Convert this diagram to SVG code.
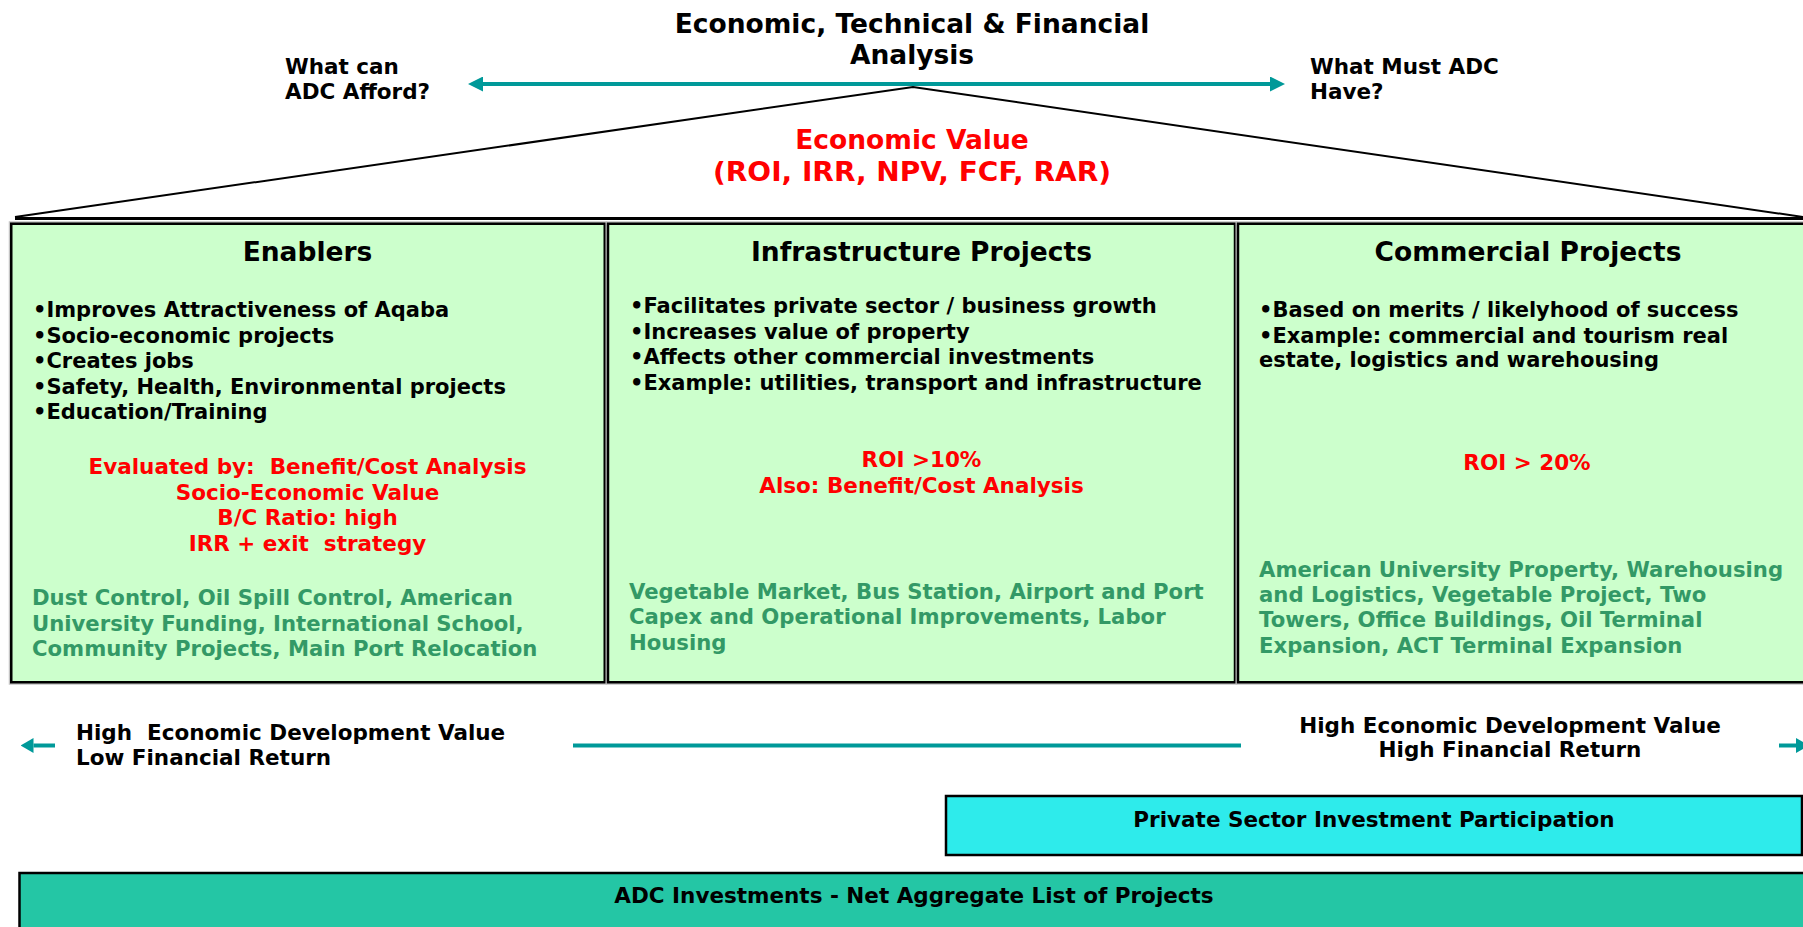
<svg xmlns="http://www.w3.org/2000/svg" width="1803" height="927" viewBox="0 0 1803 927">
<defs>
<style>
text{font-family:"DejaVu Sans",Verdana,sans-serif;font-weight:bold;white-space:pre}
.h{font-size:26.5px;fill:#000;text-anchor:middle}
.b{font-size:21px;fill:#000}
.lbl{font-size:21.5px;fill:#000}
.r{font-size:21.5px;fill:#f00;text-anchor:middle}
.rv{font-size:26.5px;fill:#f00;text-anchor:middle}
.g{font-size:21.2px;fill:#339966}
.c{text-anchor:middle}
.box{fill:#ccffcc;stroke:#000;stroke-width:2.5}
.halo{fill:none;stroke:#c4c4c4;stroke-width:5}
.arr{stroke:#009999;stroke-width:4;fill:none}
</style>
<marker id="ah" markerUnits="userSpaceOnUse" markerWidth="15" markerHeight="15" viewBox="0 0 15 15" refX="0" refY="7.5" orient="auto-start-reverse">
<path d="M0,0 L15,7.5 L0,15 z" fill="#009999"/>
</marker>
<marker id="ahs" markerUnits="userSpaceOnUse" markerWidth="13" markerHeight="15" viewBox="0 0 13 15" refX="0" refY="7.5" orient="auto-start-reverse">
<path d="M0,0 L13,7.5 L0,15 z" fill="#009999"/>
</marker>
</defs>
<rect width="1803" height="927" fill="#fff"/>

<g id="title">
<text class="h" x="912" y="33">Economic, Technical &amp; Financial</text>
<text class="h" x="912" y="64">Analysis</text>
</g>
<g id="afford">
<text class="lbl" x="285" y="74">What can</text>
<text class="lbl" x="285" y="99">ADC Afford?</text>
</g>
<g id="must-have">
<text class="lbl" x="1310" y="74">What Must ADC</text>
<text class="lbl" x="1310" y="99">Have?</text>
</g>

<g id="roof">
<polyline points="15,217 913,87 1803,217" fill="none" stroke="#000" stroke-width="2"/>
<line x1="15" y1="218.5" x2="1803" y2="218.5" stroke="#000" stroke-width="3"/>
<text class="rv" x="912" y="149">Economic Value</text>
<text class="rv" x="912" y="181" textLength="398" lengthAdjust="spacingAndGlyphs">(ROI, IRR, NPV, FCF, RAR)</text>
</g>

<g id="enablers">
<rect class="halo" x="11.25" y="223.75" width="593.5" height="458.5"/>
<rect class="box" x="11.25" y="223.75" width="593.5" height="458.5"/>
<text class="h" x="307.5" y="261">Enablers</text>
<text class="b" x="33" y="317">•Improves Attractiveness of Aqaba</text>
<text class="b" x="33" y="342.5">•Socio-economic projects</text>
<text class="b" x="33" y="368">•Creates jobs</text>
<text class="b" x="33" y="393.5">•Safety, Health, Environmental projects</text>
<text class="b" x="33" y="419">•Education/Training</text>
<text class="r" x="307.5" y="474">Evaluated by:  Benefit/Cost Analysis</text>
<text class="r" x="307.5" y="499.5">Socio-Economic Value</text>
<text class="r" x="307.5" y="525">B/C Ratio: high</text>
<text class="r" x="307.5" y="550.5">IRR + exit  strategy</text>
<text class="g" x="32" y="605">Dust Control, Oil Spill Control, American</text>
<text class="g" x="32" y="630.5">University Funding, International School,</text>
<text class="g" x="32" y="656">Community Projects, Main Port Relocation</text>
</g>

<g id="infrastructure">
<rect class="halo" x="608" y="223.75" width="627" height="458.5"/>
<rect class="box" x="608" y="223.75" width="627" height="458.5"/>
<text class="h" x="921.5" y="261">Infrastructure Projects</text>
<text class="b" x="630" y="313">•Facilitates private sector / business growth</text>
<text class="b" x="630" y="338.5">•Increases value of property</text>
<text class="b" x="630" y="364">•Affects other commercial investments</text>
<text class="b" x="630" y="389.5">•Example: utilities, transport and infrastructure</text>
<text class="r" x="921.5" y="467">ROI &gt;10%</text>
<text class="r" x="921.5" y="493">Also: Benefit/Cost Analysis</text>
<text class="g" x="629" y="598.5">Vegetable Market, Bus Station, Airport and Port</text>
<text class="g" x="629" y="624">Capex and Operational Improvements, Labor</text>
<text class="g" x="629" y="649.5">Housing</text>
</g>

<g id="commercial">
<rect class="halo" x="1238" y="223.75" width="600" height="458.5"/>
<rect class="box" x="1238" y="223.75" width="600" height="458.5"/>
<text class="h" x="1528" y="261">Commercial Projects</text>
<text class="b" x="1259" y="317">•Based on merits / likelyhood of success</text>
<text class="b" x="1259" y="342.5">•Example: commercial and tourism real</text>
<text class="b" x="1259" y="367">estate, logistics and warehousing</text>
<text class="r" x="1527" y="470">ROI &gt; 20%</text>
<text class="g" x="1259" y="576.5">American University Property, Warehousing</text>
<text class="g" x="1259" y="602">and Logistics, Vegetable Project, Two</text>
<text class="g" x="1259" y="627">Towers, Office Buildings, Oil Terminal</text>
<text class="g" x="1259" y="652.5">Expansion, ACT Terminal Expansion</text>
</g>

<g id="low-return">
<text class="lbl" x="76" y="739.5">High  Economic Development Value</text>
<text class="lbl" x="76" y="765">Low Financial Return</text>
</g>
<g id="high-return">
<text class="lbl c" x="1510" y="732.5">High Economic Development Value</text>
<text class="lbl c" x="1510" y="757">High Financial Return</text>
</g>

<g id="connectors">
<line class="arr" x1="483" y1="84" x2="1270" y2="84" marker-start="url(#ah)" marker-end="url(#ah)"/>
<line class="arr" x1="33.5" y1="745.5" x2="55" y2="745.5" marker-start="url(#ahs)"/>
<line class="arr" x1="573" y1="745.5" x2="1241" y2="745.5"/>
<line class="arr" x1="1779" y1="745.5" x2="1796" y2="745.5" marker-end="url(#ahs)"/>
</g>

<g id="private-sector">
<rect x="946" y="796" width="856" height="59" fill="#2eebeb" stroke="#000" stroke-width="2.5"/>
<text class="lbl c" x="1374" y="827">Private Sector Investment Participation</text>
</g>

<g id="adc-investments">
<rect x="19.5" y="873" width="1800" height="60" fill="#24c6a5" stroke="#000" stroke-width="2.5"/>
<text class="lbl c" x="914" y="903">ADC Investments - Net Aggregate List of Projects</text>
</g>
</svg>
